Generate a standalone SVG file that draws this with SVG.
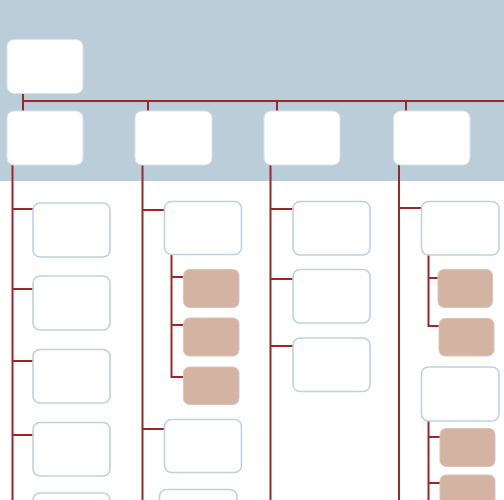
<svg xmlns="http://www.w3.org/2000/svg" width="504" height="500" viewBox="0 0 504 500">
  <style>
    .band { fill: #bacdd9; }
    .head { fill: #ffffff; stroke: #d6e4ec; stroke-width: 1; }
    .item { fill: #ffffff; stroke: #bfd2de; stroke-width: 1.6; }
    .leaf { fill: #d3b4a2; stroke: #dcc4b6; stroke-width: 1; }
    .wire { fill: none; stroke: #9c2628; stroke-width: 2; }
  </style>

  <!-- header band -->
  <rect class="band" x="0" y="0" width="504" height="181"/>

  <!-- connectors -->
  <g id="connectors">
    <path class="wire" d="M23,93 V111 M23,101 H504 M148,101 V111 M277,101 V111 M406,101 V111"/>
    <!-- column 1 -->
    <path class="wire" d="M12.5,165 V500 M12.5,209 H33 M12.5,289 H33 M12.5,361 H33 M12.5,435 H33"/>
    <!-- column 2 -->
    <path class="wire" d="M142.5,165 V500 M142.5,210 H164 M142.5,429 H164"/>
    <path class="wire" d="M171.5,255 V377 H183 M171.5,277 H183 M171.5,325 H183"/>
    <!-- column 3 -->
    <path class="wire" d="M270.5,165 V500 M270.5,209 H293 M270.5,279 H293 M270.5,346 H293"/>
    <!-- column 4 -->
    <path class="wire" d="M399,165 V500 M399,208 H421"/>
    <path class="wire" d="M428.5,255 V326 H439 M428.5,278 H438"/>
    <path class="wire" d="M428.5,421 V500 M428.5,437 H440 M428.5,483 H440"/>
  </g>

  <!-- top level -->
  <g id="root"><rect class="head" x="7" y="39.5" width="76" height="54" rx="7"/></g>
  <g id="h1"><rect class="head" x="7" y="111" width="76" height="54" rx="7"/></g>
  <g id="h2"><rect class="head" x="135" y="111" width="77" height="54" rx="7"/></g>
  <g id="h3"><rect class="head" x="264" y="111" width="76" height="54" rx="7"/></g>
  <g id="h4"><rect class="head" x="393.5" y="111" width="76.5" height="54" rx="7"/></g>

  <!-- column 1 -->
  <g id="c1a"><rect class="item" x="33" y="203" width="77" height="54" rx="7"/></g>
  <g id="c1b"><rect class="item" x="33" y="276" width="77" height="54" rx="7"/></g>
  <g id="c1c"><rect class="item" x="33" y="349.5" width="77" height="53.5" rx="7"/></g>
  <g id="c1d"><rect class="item" x="33" y="422.5" width="77" height="53.5" rx="7"/></g>
  <g id="c1e"><rect class="item" x="33" y="493" width="77" height="54" rx="7"/></g>

  <!-- column 2 -->
  <g id="c2a"><rect class="item" x="164.5" y="201.5" width="77" height="53" rx="7"/></g>
  <g id="c2a1"><rect class="leaf" x="183.5" y="269.5" width="55.5" height="38" rx="6"/></g>
  <g id="c2a2"><rect class="leaf" x="183.5" y="318" width="55.5" height="38" rx="6"/></g>
  <g id="c2a3"><rect class="leaf" x="183.5" y="367" width="55.5" height="37.5" rx="6"/></g>
  <g id="c2b"><rect class="item" x="164.5" y="419.5" width="77" height="53" rx="7"/></g>
  <g id="c2c"><rect class="item" x="159.5" y="489.5" width="77.5" height="53" rx="7"/></g>

  <!-- column 3 -->
  <g id="c3a"><rect class="item" x="293" y="201.5" width="77" height="53.5" rx="7"/></g>
  <g id="c3b"><rect class="item" x="293" y="269.5" width="77" height="53.5" rx="7"/></g>
  <g id="c3c"><rect class="item" x="293" y="338" width="77" height="53.5" rx="7"/></g>

  <!-- column 4 -->
  <g id="c4a"><rect class="item" x="421.5" y="201.5" width="77.5" height="53.5" rx="7"/></g>
  <g id="c4a1"><rect class="leaf" x="438" y="269.5" width="54.5" height="38" rx="6"/></g>
  <g id="c4a2"><rect class="leaf" x="439" y="318.5" width="55" height="37.5" rx="6"/></g>
  <g id="c4b"><rect class="item" x="421.5" y="367" width="77.5" height="54" rx="7"/></g>
  <g id="c4b1"><rect class="leaf" x="440" y="428.5" width="55" height="38" rx="6"/></g>
  <g id="c4b2"><rect class="leaf" x="440" y="475" width="55" height="38" rx="6"/></g>
</svg>
